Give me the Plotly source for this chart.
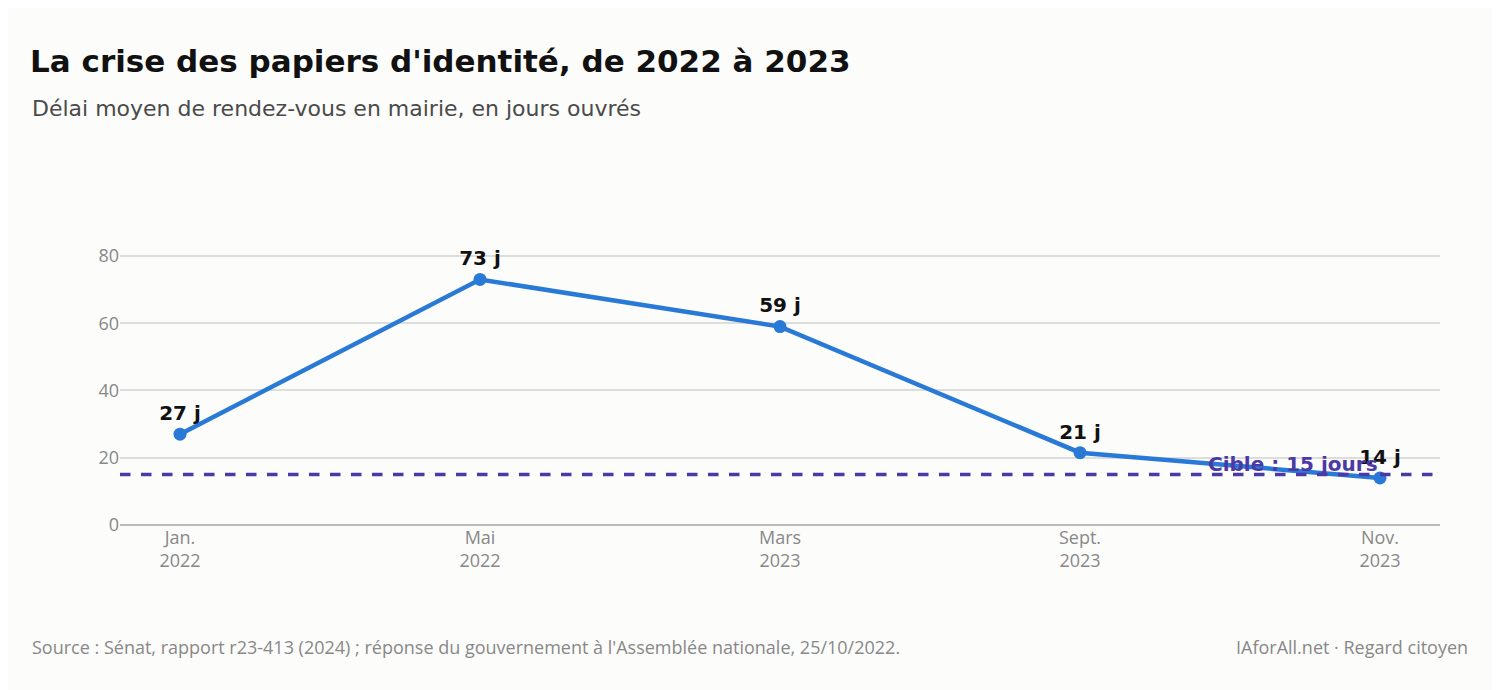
import plotly.graph_objects as go

labels = ["Jan.<br>2022", "Mai<br>2022", "Mars<br>2023", "Sept.<br>2023", "Nov.<br>2023"]
values = [27, 73, 59, 21.5, 14]
value_text = ["<b>27 j</b>", "<b>73 j</b>", "<b>59 j</b>", "<b>21 j</b>", "<b>14 j</b>"]
target = 15
xs = list(range(len(labels)))

fig = go.Figure()
fig.add_trace(go.Scatter(
    x=xs, y=values, mode="lines+markers+text",
    line=dict(color="#2979d6", width=4.5),
    marker=dict(size=13, color="#2979d6"),
    text=value_text, textposition="top center",
    textfont=dict(family="DejaVu Sans", size=20, color="#111111"),
    hoverinfo="skip", cliponaxis=False, showlegend=False))
fig.add_shape(type="line", xref="paper", x0=0, x1=1, y0=target, y1=target,
              line=dict(color="#4b3aa6", width=3.5, dash="dash"))
fig.add_annotation(x=4, y=target, xref="x", yref="y", text="<b>Cible : 15 jours</b>",
                   showarrow=False, xanchor="right", yanchor="bottom", yshift=-3,
                   font=dict(family="DejaVu Sans", size=20, color="#4b3aa6"))

fig.update_layout(
    width=1500, height=690,
    paper_bgcolor="#fcfcfb", plot_bgcolor="#fcfcfb",
    margin=dict(l=112, r=68, t=182, b=173),
    title=dict(text="<b>La crise des papiers d'identité, de 2022 à 2023</b>",
               x=0.0147, xanchor="left", y=0.923, yanchor="middle",
               font=dict(family="DejaVu Sans", size=31, color="#111111")),
    xaxis=dict(range=[-0.2, 4.2], tickmode="array", tickvals=xs, ticktext=labels,
               showgrid=False, zeroline=False, showline=False,
               tickfont=dict(family="Open Sans", size=18, color="#888888")),
    yaxis=dict(range=[0, 99.6], tickvals=[0, 20, 40, 60, 80], showgrid=True,
               gridcolor="#dddddd", gridwidth=1.5, zeroline=True, zerolinecolor="#bbbbbb",
               zerolinewidth=2, ticksuffix="  ",
               tickfont=dict(family="Open Sans", size=18, color="#888888")),
)
fig.add_annotation(xref="paper", yref="paper", x=-0.0682, y=1.2418, xanchor="left", yanchor="middle",
                   text="Délai moyen de rendez-vous en mairie, en jours ouvrés", showarrow=False,
                   font=dict(family="DejaVu Sans", size=22, color="#4a4a4a"))
fig.add_annotation(xref="paper", yref="paper", x=-0.0682, y=-0.364, xanchor="left", yanchor="middle",
                   text="Source : Sénat, rapport r23-413 (2024) ; réponse du gouvernement à l'Assemblée nationale, 25/10/2022.",
                   showarrow=False, font=dict(family="Open Sans", size=18, color="#888888"))
fig.add_annotation(xref="paper", yref="paper", x=1.0227, y=-0.364, xanchor="right", yanchor="middle",
                   text="IAforAll.net · Regard citoyen",
                   showarrow=False, font=dict(family="Open Sans", size=18, color="#888888"))
fig.write_html("out.html")
